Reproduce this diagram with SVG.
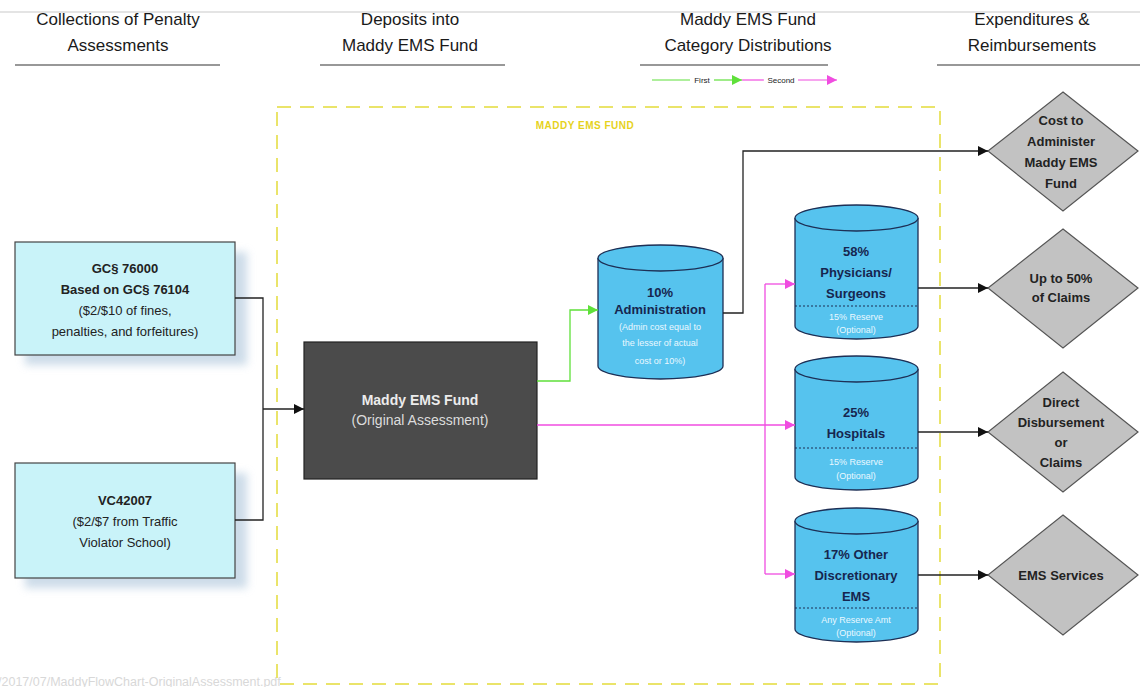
<svg xmlns="http://www.w3.org/2000/svg" width="1140" height="687" viewBox="0 0 1140 687">
  <defs>
    <style>
      text { font-family: "Liberation Sans", Arial, sans-serif; text-anchor: middle; }
      .hdr { font-size: 17px; fill: #1a1a1a; }
      .rule { stroke: #333; stroke-width: 1.2; }
      .src { fill: #c9f3f9; stroke: #444; stroke-width: 1.2; }
      .srcT { font-size: 13px; fill: #222; }
      .b { font-weight: bold; }
      .cyl { fill: #56c3ee; stroke: #1d2f55; stroke-width: 1.3; }
      .cylT { font-size: 13px; font-weight: bold; fill: #16264f; }
      .cylS { font-size: 9px; fill: #eaf8ff; }
      .dots { stroke: #1d2f55; stroke-width: 1; stroke-dasharray: 2 2; }
      .dia { fill: #c2c2c2; stroke: #555; stroke-width: 1.2; }
      .diaT { font-size: 13px; font-weight: bold; fill: #222; }
      .blk { fill: none; stroke: #222; stroke-width: 1.3; }
      .grn { fill: none; stroke: #5fe03a; stroke-width: 1.3; }
      .pnk { fill: none; stroke: #f04ce0; stroke-width: 1.3; }
    </style>
    <marker id="ahB" viewBox="0 0 10 10" refX="10" refY="5" markerWidth="10" markerHeight="10" markerUnits="userSpaceOnUse" orient="auto">
      <path d="M0,0 L10,5 L0,10 z" fill="#111"/>
    </marker>
    <marker id="ahG" viewBox="0 0 10 10" refX="10" refY="5" markerWidth="10" markerHeight="10" markerUnits="userSpaceOnUse" orient="auto">
      <path d="M0,0 L10,5 L0,10 z" fill="#5fe03a"/>
    </marker>
    <marker id="ahP" viewBox="0 0 10 10" refX="10" refY="5" markerWidth="10" markerHeight="10" markerUnits="userSpaceOnUse" orient="auto">
      <path d="M0,0 L10,5 L0,10 z" fill="#f04ce0"/>
    </marker>
    <filter id="shadow" x="-20%" y="-20%" width="150%" height="150%">
      <feGaussianBlur stdDeviation="4"/>
    </filter>
  </defs>

  <rect width="1140" height="687" fill="#ffffff"/>
  <line x1="0" y1="12" x2="1140" y2="12" stroke="#e4e4e4" stroke-width="2"/>

  <!-- column headings -->
  <g id="headings">
    <text class="hdr" x="118" y="25">Collections of Penalty</text>
    <text class="hdr" x="118" y="51">Assessments</text>
    <line class="rule" x1="15" y1="65" x2="220" y2="65"/>
    <text class="hdr" x="410" y="25">Deposits into</text>
    <text class="hdr" x="410" y="51">Maddy EMS Fund</text>
    <line class="rule" x1="320" y1="65" x2="505" y2="65"/>
    <text class="hdr" x="748" y="25">Maddy EMS Fund</text>
    <text class="hdr" x="748" y="51">Category Distributions</text>
    <line class="rule" x1="640" y1="65" x2="828" y2="65"/>
    <text class="hdr" x="1032" y="25">Expenditures &amp;</text>
    <text class="hdr" x="1032" y="51">Reimbursements</text>
    <line class="rule" x1="937" y1="65" x2="1140" y2="65"/>
  </g>

  <!-- legend -->
  <g id="legend">
    <line x1="652" y1="80" x2="690" y2="80" stroke="#5fe03a" stroke-width="1.2"/>
    <text x="702" y="83" style="font-size:8px;fill:#222">First</text>
    <line x1="714" y1="80" x2="742" y2="80" stroke="#5fe03a" stroke-width="1.2" marker-end="url(#ahG)"/>
    <line x1="742" y1="80" x2="764" y2="80" stroke="#f04ce0" stroke-width="1.2"/>
    <text x="781" y="83" style="font-size:8px;fill:#222">Second</text>
    <line x1="798" y1="80" x2="837" y2="80" stroke="#f04ce0" stroke-width="1.2" marker-end="url(#ahP)"/>
  </g>

  <!-- fund boundary -->
  <g id="fund-boundary">
    <rect x="277" y="107" width="663" height="577" fill="none" stroke="#e3dc3a" stroke-width="1.5" stroke-dasharray="14 9"/>
    <text x="585" y="129" style="font-size:10px;font-weight:bold;fill:#e6d21c;letter-spacing:0.5px">MADDY EMS FUND</text>
  </g>

  <!-- source of funds -->
  <g id="gc76000">
    <rect x="25" y="252" width="222" height="113" fill="#b8cde0" opacity="0.7" filter="url(#shadow)"/>
    <rect class="src" x="15" y="242" width="220" height="113"/>
    <text class="srcT b" x="125" y="273">GC§ 76000</text>
    <text class="srcT b" x="125" y="294">Based on GC§ 76104</text>
    <text class="srcT" x="125" y="315">($2/$10 of fines,</text>
    <text class="srcT" x="125" y="336">penalties, and forfeitures)</text>
  </g>
  <g id="vc42007">
    <rect x="25" y="473" width="222" height="115" fill="#b8cde0" opacity="0.7" filter="url(#shadow)"/>
    <rect class="src" x="15" y="463" width="220" height="115"/>
    <text class="srcT b" x="125" y="505">VC42007</text>
    <text class="srcT" x="125" y="526">($2/$7 from Traffic</text>
    <text class="srcT" x="125" y="547">Violator School)</text>
  </g>

  <!-- deposit -->
  <g id="original-assessment">
    <rect x="304" y="342" width="233" height="137" fill="#4b4b4b" stroke="#222" stroke-width="1.2"/>
    <text x="420" y="405" style="font-size:14px;font-weight:bold;fill:#ececec">Maddy EMS Fund</text>
    <text x="420" y="425" style="font-size:14px;fill:#dcdcdc">(Original Assessment)</text>
  </g>

  <!-- category distributions -->
  <g id="administration">
    <path class="cyl" d="M598,258 L598,366 A62.5,13 0 0 0 723,366 L723,258"/>
    <ellipse class="cyl" cx="660.5" cy="258" rx="62.5" ry="13"/>
    <text class="cylT" x="660" y="297">10%</text>
    <text class="cylT" x="660" y="314">Administration</text>
    <text class="cylS" x="660" y="330">(Admin cost equal to</text>
    <text class="cylS" x="660" y="346">the lesser of actual</text>
    <text class="cylS" x="660" y="364">cost or 10%)</text>
  </g>
  <g id="physicians">
    <path class="cyl" d="M795,218 L795,326 A61.5,13 0 0 0 918,326 L918,218"/>
    <ellipse class="cyl" cx="856.5" cy="218" rx="61.5" ry="13"/>
    <text class="cylT" x="856" y="256">58%</text>
    <text class="cylT" x="856" y="277">Physicians/</text>
    <text class="cylT" x="856" y="298">Surgeons</text>
    <line class="dots" x1="795" y1="306" x2="918" y2="306"/>
    <text class="cylS" x="856" y="320">15% Reserve</text>
    <text class="cylS" x="856" y="333">(Optional)</text>
  </g>
  <g id="hospitals">
    <path class="cyl" d="M795,369 L795,477 A61.5,13 0 0 0 918,477 L918,369"/>
    <ellipse class="cyl" cx="856.5" cy="369" rx="61.5" ry="13"/>
    <text class="cylT" x="856" y="417">25%</text>
    <text class="cylT" x="856" y="438">Hospitals</text>
    <line class="dots" x1="795" y1="448" x2="918" y2="448"/>
    <text class="cylS" x="856" y="465">15% Reserve</text>
    <text class="cylS" x="856" y="479">(Optional)</text>
  </g>
  <g id="other-ems">
    <path class="cyl" d="M795,521 L795,629 A61.5,13 0 0 0 918,629 L918,521"/>
    <ellipse class="cyl" cx="856.5" cy="521" rx="61.5" ry="13"/>
    <text class="cylT" x="856" y="559">17% Other</text>
    <text class="cylT" x="856" y="580">Discretionary</text>
    <text class="cylT" x="856" y="601">EMS</text>
    <line class="dots" x1="795" y1="608" x2="918" y2="608"/>
    <text class="cylS" x="856" y="623">Any Reserve Amt</text>
    <text class="cylS" x="856" y="636">(Optional)</text>
  </g>

  <!-- expenditures -->
  <g id="cost-to-administer">
    <polygon class="dia" points="1063,92 1138,151 1063,211 988,151"/>
    <text class="diaT" x="1061" y="125">Cost to</text>
    <text class="diaT" x="1061" y="146">Administer</text>
    <text class="diaT" x="1061" y="167">Maddy EMS</text>
    <text class="diaT" x="1061" y="188">Fund</text>
  </g>
  <g id="up-to-50">
    <polygon class="dia" points="1063,229 1138,288 1063,348 988,288"/>
    <text class="diaT" x="1061" y="283">Up to 50%</text>
    <text class="diaT" x="1061" y="302">of Claims</text>
  </g>
  <g id="direct-disbursement">
    <polygon class="dia" points="1063,372 1138,432 1063,492 988,432"/>
    <text class="diaT" x="1061" y="407">Direct</text>
    <text class="diaT" x="1061" y="427">Disbursement</text>
    <text class="diaT" x="1061" y="447">or</text>
    <text class="diaT" x="1061" y="467">Claims</text>
  </g>
  <g id="ems-services">
    <polygon class="dia" points="1063,515 1138,575 1063,635 988,575"/>
    <text class="diaT" x="1061" y="580">EMS Services</text>
  </g>

  <!-- connectors -->
  <g id="connectors">
    <path class="blk" d="M235,298 L263,298 L263,520 L235,520"/>
    <path class="blk" d="M263,409 L304,409" marker-end="url(#ahB)"/>
    <path class="grn" d="M537,381 L570,381 L570,310 L598,310" marker-end="url(#ahG)"/>
    <path class="pnk" d="M537,425 L795,425" marker-end="url(#ahP)"/>
    <path class="pnk" d="M765,284 L765,574"/>
    <path class="pnk" d="M765,284 L795,284" marker-end="url(#ahP)"/>
    <path class="pnk" d="M765,574 L795,574" marker-end="url(#ahP)"/>
    <path class="blk" d="M723,313 L743,313 L743,151 L988,151" marker-end="url(#ahB)"/>
    <path class="blk" d="M918,288 L988,288" marker-end="url(#ahB)"/>
    <path class="blk" d="M918,432 L988,432" marker-end="url(#ahB)"/>
    <path class="blk" d="M918,575 L988,575" marker-end="url(#ahB)"/>
  </g>

  <text x="-2" y="686" style="font-size:12.5px;fill:#d8d8d8;text-anchor:start">/2017/07/MaddyFlowChart-OriginalAssessment.pdf</text>
</svg>
